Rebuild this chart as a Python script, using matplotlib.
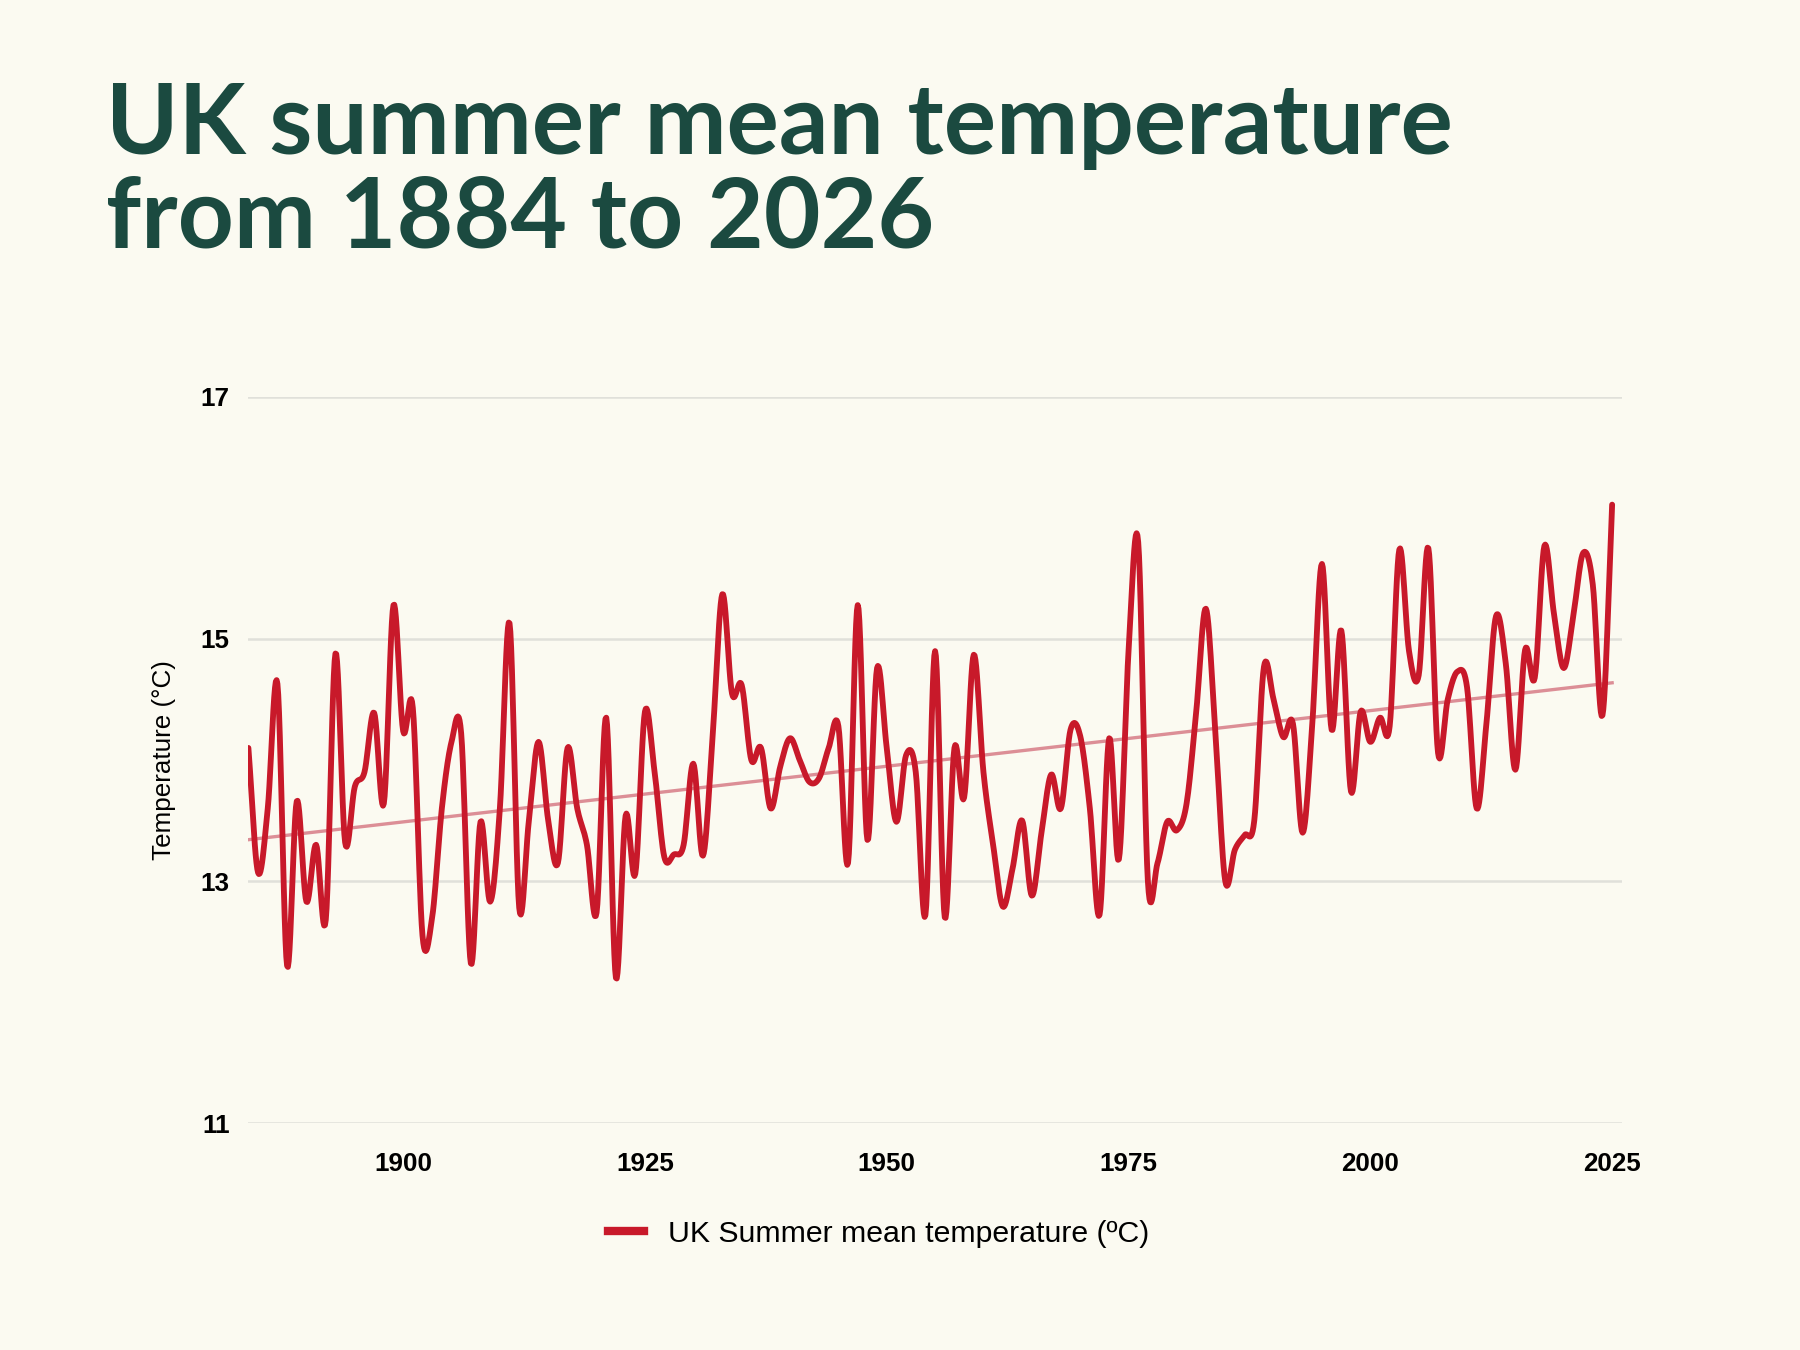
import numpy as np
import matplotlib
matplotlib.use("Agg")
import matplotlib.pyplot as plt
from matplotlib.lines import Line2D

years = np.arange(1884, 2026)
temps = [
    14.1, 13.07, 13.6, 14.63, 12.3, 13.66, 12.83, 13.3, 12.68, 14.88,   # 1884-1893
    13.32, 13.78, 13.9, 14.39, 13.64, 15.28, 14.24, 14.43, 12.55, 12.7,  # 1894-1903
    13.6, 14.15, 14.22, 12.32, 13.49, 12.83, 13.6, 15.13, 12.78, 13.5,   # 1904-1913
    14.15, 13.5, 13.15, 14.1, 13.6, 13.3, 12.74, 14.35, 12.2, 13.54,     # 1914-1923
    13.06, 14.4, 13.9, 13.2, 13.22, 13.3, 13.97, 13.21, 14.2, 15.37,     # 1924-1933
    14.55, 14.62, 14.0, 14.1, 13.6, 13.95, 14.18, 14.0, 13.82, 13.85,    # 1934-1943
    14.1, 14.28, 13.15, 15.28, 13.34, 14.76, 14.1, 13.49, 14.04, 13.9,   # 1944-1953
    12.72, 14.9, 12.7, 14.1, 13.69, 14.87, 13.9, 13.3, 12.79, 13.1,      # 1954-1963
    13.5, 12.88, 13.4, 13.88, 13.6, 14.25, 14.2, 13.6, 12.72, 14.18,     # 1964-1973
    13.18, 14.9, 15.8, 13.0, 13.15, 13.49, 13.42, 13.64, 14.4, 15.25,    # 1974-1983
    14.2, 13.0, 13.26, 13.38, 13.5, 14.77, 14.5, 14.19, 14.3, 13.4,      # 1984-1993
    14.3, 15.62, 14.25, 15.07, 13.74, 14.4, 14.15, 14.35, 14.28, 15.74,  # 1994-2003
    14.9, 14.7, 15.75, 14.06, 14.5, 14.73, 14.6, 13.6, 14.3, 15.19,      # 2004-2013
    14.8, 13.92, 14.91, 14.68, 15.77, 15.2, 14.76, 15.2, 15.71, 15.45,   # 2014-2023
    14.37, 16.11,                                                        # 2024-2025
]
y_ticks = [11, 13, 15, 17]
x_ticks = [1900, 1925, 1950, 1975, 2000, 2025]

BG = "#fbfaf1"
RED = "#c8192a"
GREEN = "#1b4a40"


def smooth(x, y, n=12):
    # Catmull-Rom curve through the yearly points, for the rounded line look
    x = np.asarray(x, float); y = np.asarray(y, float)
    px = np.concatenate([[2 * x[0] - x[1]], x, [2 * x[-1] - x[-2]]])
    py = np.concatenate([[2 * y[0] - y[1]], y, [2 * y[-1] - y[-2]]])
    t = np.linspace(0, 1, n, endpoint=False)
    xs, ys = [], []
    for i in range(1, len(px) - 2):
        for p, out in ((px, xs), (py, ys)):
            p0, p1, p2, p3 = p[i - 1], p[i], p[i + 1], p[i + 2]
            out.append(0.5 * (2 * p1 + (-p0 + p2) * t + (2 * p0 - 5 * p1 + 4 * p2 - p3) * t ** 2
                              + (-p0 + 3 * p1 - 3 * p2 + p3) * t ** 3))
    xs.append([x[-1]]); ys.append([y[-1]])
    return np.concatenate(xs), np.concatenate(ys)


fig = plt.figure(figsize=(12, 9), dpi=150, facecolor=BG)
fig.text(0.059, 0.817, "UK summer mean temperature\nfrom 1884 to 2026", family="Lato",
         fontweight="bold", fontsize=47, color=GREEN, va="baseline", ha="left", linespacing=1.05)

ax = fig.add_axes([0.138, 0.168, 0.763, 0.538], facecolor=BG)
sx, sy = smooth(years, temps)
coef = np.polyfit(years, temps, 1)
ax.plot(years, np.polyval(coef, years), color="#dc8e96", lw=1.6, zorder=2)
ax.plot(sx, sy, color=RED, lw=2.8, solid_capstyle="round", zorder=3)

ax.set_xlim(1884, 2026)
ax.set_ylim(11, 17)
ax.set_yticks(y_ticks)
ax.set_xticks(x_ticks)
ax.grid(axis="y", color="#e0e0da", lw=1.2)
ax.set_axisbelow(True)
for s in ax.spines.values():
    s.set_visible(False)
ax.tick_params(length=0, labelsize=12.5, pad=14)
ax.tick_params(axis="y", pad=9)
for lbl in ax.get_xticklabels() + ax.get_yticklabels():
    lbl.set_fontweight("bold")
    lbl.set_family("Liberation Sans")
ax.set_ylabel("Temperature (°C)", family="Liberation Sans", fontsize=12.5, labelpad=12)

fig.legend([Line2D([], [], color=RED, lw=4)], ["UK Summer mean temperature (ºC)"],
           loc="center", bbox_to_anchor=(0.488, 0.086), frameon=False, handlelength=1.2,
           prop={"family": "Liberation Sans", "size": 14.5})

fig.savefig("out.png", facecolor=BG)
